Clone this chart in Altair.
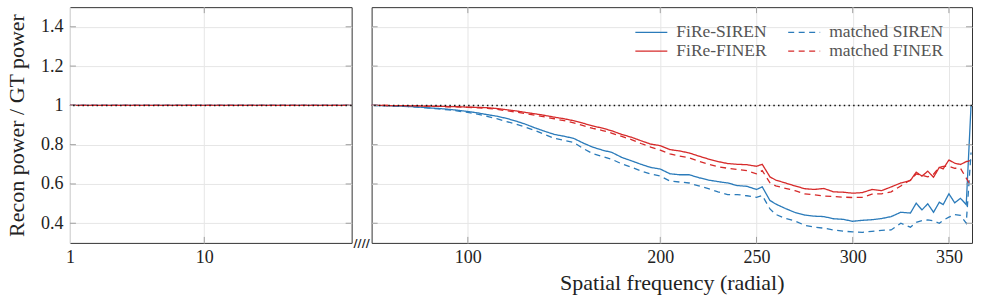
import altair as alt
import pandas as pd

# ---------------------------------------------------------------------------
# Radial power spectrum ratio (reconstruction / ground truth)
# ---------------------------------------------------------------------------
series = ["FiRe-SIREN", "FiRe-FINER", "matched SIREN", "matched FINER"]

# low-frequency panel (log axis)
low_freq = [1, 2, 5, 10, 20, 50, 125]
low_fire_siren = [1.0, 1.0, 1.0, 1.0, 1.0, 1.0, 1.0]
low_fire_finer = [1.0, 1.0, 1.0, 1.0, 1.0, 1.0, 1.0]
low_matched_siren = [1.0, 1.0, 1.0, 1.0, 1.0, 1.0, 1.0]
low_matched_finer = [1.0, 1.0, 1.0, 1.0, 1.0, 1.0, 1.0]

# high-frequency panel (linear axis)
freq = [50, 55, 60, 65, 70, 75, 80, 85, 90, 95, 100,
        105, 110, 115, 120, 125, 130, 135, 140, 145, 150,
        155, 160, 165, 170, 175, 180, 185, 190, 195, 200,
        205, 210, 215, 220, 225, 230, 235, 240, 245, 250,
        253, 257, 260, 265, 270, 275, 280, 285, 290, 295, 300,
        305, 310, 315, 320, 325, 330, 333, 336, 339, 342, 345,
        347, 350, 353, 356, 359, 361.5]

fire_siren = [1.000, 0.999, 0.998, 0.996, 0.994, 0.991, 0.987, 0.984, 0.980, 0.975, 0.969,
              0.962, 0.953, 0.945, 0.934, 0.920, 0.904, 0.885, 0.868, 0.852, 0.843,
              0.832, 0.808, 0.787, 0.772, 0.760, 0.735, 0.718, 0.700, 0.684, 0.676,
              0.652, 0.647, 0.647, 0.632, 0.620, 0.612, 0.605, 0.592, 0.588, 0.572,
              0.585, 0.516, 0.498, 0.475, 0.455, 0.442, 0.436, 0.434, 0.423, 0.420, 0.410,
              0.415, 0.418, 0.424, 0.434, 0.456, 0.452, 0.502, 0.468, 0.499, 0.456, 0.507,
              0.495, 0.550, 0.504, 0.527, 0.495, 1.000]

fire_finer = [1.000, 1.000, 0.999, 0.999, 0.998, 0.997, 0.996, 0.995, 0.994, 0.993, 0.991,
              0.990, 0.988, 0.984, 0.978, 0.972, 0.964, 0.957, 0.949, 0.940, 0.932,
              0.922, 0.909, 0.895, 0.884, 0.870, 0.852, 0.838, 0.820, 0.803, 0.795,
              0.775, 0.768, 0.758, 0.742, 0.727, 0.714, 0.704, 0.700, 0.698, 0.690,
              0.700, 0.636, 0.620, 0.605, 0.590, 0.576, 0.572, 0.577, 0.560, 0.558, 0.553,
              0.556, 0.572, 0.566, 0.585, 0.605, 0.618, 0.660, 0.640, 0.665, 0.634, 0.685,
              0.677, 0.722, 0.706, 0.699, 0.714, 0.720]

matched_siren = [1.000, 0.999, 0.997, 0.995, 0.993, 0.990, 0.986, 0.982, 0.977, 0.971, 0.964,
                 0.955, 0.944, 0.932, 0.918, 0.905, 0.889, 0.872, 0.852, 0.832, 0.822,
                 0.812, 0.780, 0.754, 0.740, 0.725, 0.702, 0.685, 0.666, 0.651, 0.640,
                 0.615, 0.610, 0.605, 0.590, 0.576, 0.560, 0.546, 0.546, 0.540, 0.532,
                 0.541, 0.473, 0.445, 0.425, 0.412, 0.390, 0.380, 0.375, 0.366, 0.360, 0.356,
                 0.354, 0.359, 0.364, 0.366, 0.400, 0.380, 0.405, 0.414, 0.417, 0.412, 0.400,
                 0.415, 0.431, 0.444, 0.440, 0.400, 0.760]

matched_finer = [1.000, 1.000, 0.999, 0.999, 0.998, 0.997, 0.996, 0.995, 0.993, 0.992, 0.990,
                 0.988, 0.985, 0.980, 0.973, 0.966, 0.958, 0.950, 0.941, 0.932, 0.922,
                 0.911, 0.897, 0.883, 0.872, 0.858, 0.842, 0.826, 0.806, 0.788, 0.772,
                 0.753, 0.742, 0.733, 0.716, 0.701, 0.688, 0.680, 0.674, 0.668, 0.652,
                 0.668, 0.606, 0.590, 0.578, 0.566, 0.550, 0.545, 0.538, 0.536, 0.533, 0.531,
                 0.532, 0.548, 0.550, 0.560, 0.590, 0.620, 0.651, 0.645, 0.636, 0.650, 0.685,
                 0.690, 0.689, 0.680, 0.680, 0.630, 0.590]

reference_level = [1.0]
y_ticks = [0.4, 0.6, 0.8, 1.0, 1.2, 1.4]
low_ticks = [1, 10]
high_ticks = [100, 200, 250, 300, 350]

# ---------------------------------------------------------------------------
FONT = "'Liberation Serif', 'DejaVu Serif', serif"
BLUE = "#2b7bba"
RED = "#d62a2a"
W_L, W_R, H = 282, 601, 236
TICK = 6
TICK_COLOR = "#a0a0a0"


def to_long(xs, cols):
    rows = []
    for name, vals in zip(series, cols):
        for x, v in zip(xs, vals):
            rows.append({"freq": x, "ratio": v, "model": name})
    return pd.DataFrame(rows)


low_df = to_long(low_freq, [low_fire_siren, low_fire_finer, low_matched_siren, low_matched_finer])
high_df = to_long(freq, [fire_siren, fire_finer, matched_siren, matched_finer])
ref_df = pd.DataFrame({"ratio": reference_level})

color_scale = alt.Scale(domain=series, range=[BLUE, RED, BLUE, RED])
dash_scale = alt.Scale(domain=series, range=[[1, 0], [1, 0], [6, 4.5], [6, 4.5]])
y_scale = alt.Scale(domain=[0.3, 1.5], nice=False, zero=False)
low_x_scale = alt.Scale(type="log", domain=[1, 125], nice=False)
high_x_scale = alt.Scale(domain=[50, 362], nice=False, zero=False)

grid_kw = dict(grid=True, gridColor="#e6e6e6", gridWidth=1, domain=False, ticks=False)


def inward_ticks(x_scale, x_values, width):
    """Short inward tick marks on all four sides of a panel."""
    yt = pd.DataFrame({"ratio": y_ticks})
    xt = pd.DataFrame({"freq": x_values})
    rule = dict(color=TICK_COLOR, strokeWidth=1)
    left = alt.Chart(yt).mark_rule(**rule).encode(
        y=alt.Y("ratio:Q", scale=y_scale), x=alt.value(0), x2=alt.value(TICK))
    right = alt.Chart(yt).mark_rule(**rule).encode(
        y=alt.Y("ratio:Q", scale=y_scale), x=alt.value(width - TICK), x2=alt.value(width))
    top = alt.Chart(xt).mark_rule(**rule).encode(
        x=alt.X("freq:Q", scale=x_scale), y=alt.value(0), y2=alt.value(TICK))
    bottom = alt.Chart(xt).mark_rule(**rule).encode(
        x=alt.X("freq:Q", scale=x_scale), y=alt.value(H - TICK), y2=alt.value(H))
    return [left, right, top, bottom]


# ---- left panel: low frequencies, log axis --------------------------------
low_lines = alt.Chart(low_df).mark_line(strokeWidth=1.3).encode(
    x=alt.X("freq:Q", scale=low_x_scale,
            axis=alt.Axis(values=low_ticks, format="d", title=None, labelFlush=False,
                          labelPadding=6, **grid_kw)),
    y=alt.Y("ratio:Q", scale=y_scale,
            axis=alt.Axis(values=y_ticks, format="~g", title="Recon power / GT power",
                          labelPadding=7, titlePadding=12, **grid_kw)),
    color=alt.Color("model:N", scale=color_scale, legend=None),
    strokeDash=alt.StrokeDash("model:N", scale=dash_scale, legend=None),
    order=alt.Order("model:N", sort="descending"),
)
low_ref = alt.Chart(ref_df).mark_rule(color="#111", strokeWidth=1.5, strokeDash=[1.5, 3.2]).encode(
    y=alt.Y("ratio:Q", scale=y_scale))

left = alt.layer(low_lines, *inward_ticks(low_x_scale, [10], W_L), low_ref).properties(
    width=W_L, height=H)

# ---- right panel: high frequencies, linear axis ---------------------------
# line sample drawn twice as long as the symbol box, so rows stay compact
legend = alt.Legend(orient="none", legendX=271, legendY=16, columns=2, title=None,
                    symbolType="M-2,0H2", symbolSize=256, symbolStrokeWidth=1.3,
                    labelFont=FONT, labelFontSize=17.5, labelColor="#555",
                    columnPadding=18, rowPadding=1, labelOffset=16, padding=0)

high_lines = alt.Chart(high_df).mark_line(strokeWidth=1.3).encode(
    x=alt.X("freq:Q", scale=high_x_scale,
            axis=alt.Axis(values=high_ticks, format="d", title="Spatial frequency (radial)",
                          labelPadding=6, titlePadding=6, **grid_kw)),
    y=alt.Y("ratio:Q", scale=y_scale,
            axis=alt.Axis(values=y_ticks, labels=False, title=None, **grid_kw)),
    color=alt.Color("model:N", scale=color_scale, legend=legend),
    strokeDash=alt.StrokeDash("model:N", scale=dash_scale, legend=legend),
)
high_ref = alt.Chart(ref_df).mark_rule(color="#111", strokeWidth=1.5, strokeDash=[1.5, 3.2]).encode(
    y=alt.Y("ratio:Q", scale=y_scale))

break_mark = alt.Chart(pd.DataFrame({"m": ["////"]})).mark_text(
    font="DejaVu Sans", fontSize=11, fontWeight="bold", color="#222").encode(
    x=alt.value(-10), y=alt.value(H + 1), text="m:N")

right = alt.layer(high_lines, *inward_ticks(high_x_scale, high_ticks, W_R), high_ref,
                  break_mark).properties(width=W_R, height=H)

chart = (
    alt.hconcat(left, right, spacing=20, bounds="flush")
    .resolve_scale(color="independent", strokeDash="independent")
    .properties(padding={"left": 5, "top": 6, "right": 8, "bottom": 4}, background="white")
    .configure_view(stroke="#333", strokeWidth=1)
    .configure_axis(labelFont=FONT, titleFont=FONT, labelFontSize=18, titleFontSize=22,
                    labelColor="#222", titleColor="#222", titleFontWeight="normal")
    .configure_legend(labelFont=FONT)
)

chart.save("out.html", embed_options={"renderer": "svg", "actions": False})
